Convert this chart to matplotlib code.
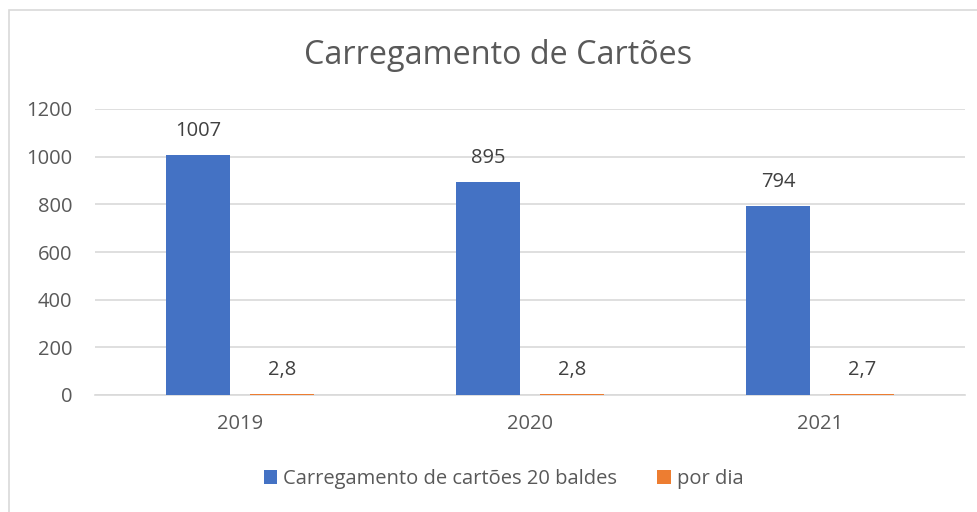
import numpy as np
import matplotlib.pyplot as plt
from matplotlib.patches import Rectangle

# Dados
anos = ["2019", "2020", "2021"]
carregamento = [1007, 895, 794]
por_dia = [2.8, 2.8, 2.7]
rotulos_por_dia = ["2,8", "2,8", "2,7"]

azul = "#4472C4"
laranja = "#ED7D31"
cinza_txt = "#595959"
cinza_grade = "#D9D9D9"

plt.rcParams['font.family'] = ['Open Sans', 'DejaVu Sans']

fig = plt.figure(figsize=(9.78, 5.12), dpi=100)
ax = fig.add_axes([95/978, 1 - 395/512, 870/978, 286/512])

# Moldura do gráfico
fig.patches.append(Rectangle((9/978, -0.05), 1.2, 1 - 10/512 + 0.05, transform=fig.transFigure,
                             fill=False, edgecolor=cinza_grade, linewidth=1.2))

x = np.arange(len(anos))
larg = 0.22
desl = 0.145
b1 = ax.bar(x - desl, carregamento, larg, color=azul, label="Carregamento de cartões 20 baldes", zorder=3)
b2 = ax.bar(x + desl, por_dia, larg, color=laranja, label="por dia", zorder=3)

for xi, v in zip(x, carregamento):
    ax.annotate(str(v), (xi - desl, v), textcoords="offset points", xytext=(0, 10),
                ha='center', va='bottom', fontsize=14.5, color="#404040")
for xi, v, t in zip(x, por_dia, rotulos_por_dia):
    ax.annotate(t, (xi + desl, v), textcoords="offset points", xytext=(0, 10),
                ha='center', va='bottom', fontsize=14.5, color="#404040")

ax.set_xlim(-0.5, 2.5)
ax.set_ylim(0, 1200)
ax.set_yticks(range(0, 1201, 200))
ax.set_xticks(x)
ax.set_xticklabels(anos)
ax.yaxis.grid(True, color=cinza_grade, linewidth=1.2, zorder=0)
ax.set_axisbelow(True)
for s in ["top", "right", "left"]:
    ax.spines[s].set_visible(False)
ax.spines["bottom"].set_color(cinza_grade)
ax.spines["bottom"].set_linewidth(1.2)
ax.tick_params(axis='both', length=0, labelsize=14.5, labelcolor=cinza_txt)
ax.tick_params(axis='y', pad=16.5)
ax.tick_params(axis='x', pad=14)

fig.text(0.509, 1 - 55/512, "Carregamento de Cartões", ha='center', va='center',
         fontsize=23.3, color=cinza_txt)

fig.legend(handles=[b1, b2], loc='center', bbox_to_anchor=(0.515, 1 - 479/512), ncol=2,
           frameon=False, fontsize=14.5, labelcolor=cinza_txt, handlelength=0.65,
           handleheight=0.65, handletextpad=0.3, columnspacing=2.0)

fig.savefig("out.png", dpi=100)
